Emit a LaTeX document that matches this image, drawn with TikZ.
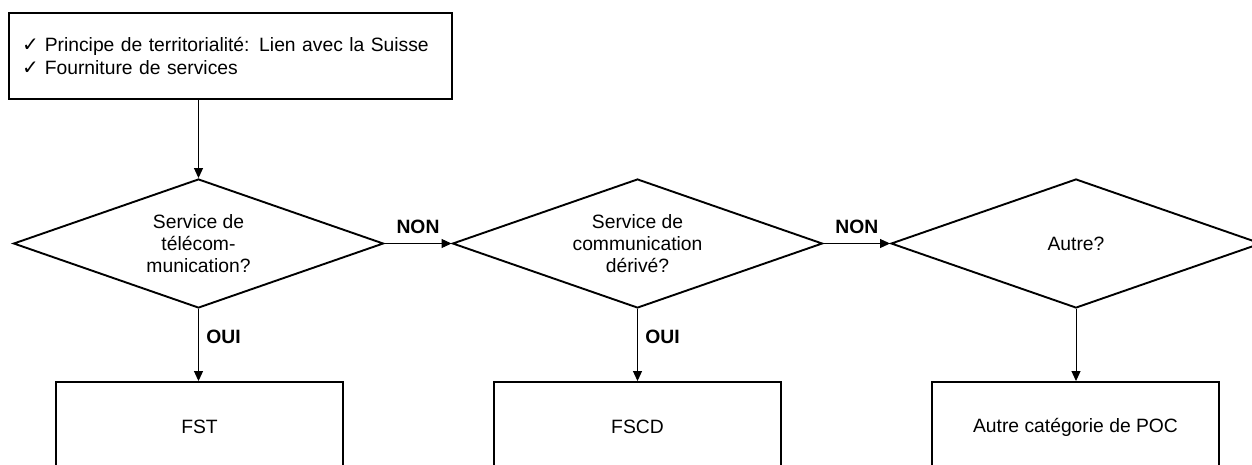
\documentclass[tikz,border=0pt]{standalone}
\usepackage{fontspec}
\setmainfont{Liberation Sans}
\newfontfamily\symfont{DejaVu Sans}
\usetikzlibrary{shapes.geometric,arrows.meta}
\tikzset{
  base/.style={font=\fontsize{19.3}{22.3}\selectfont},
  decision/.style={base, draw, line width=1.9pt, shape=diamond, aspect=2.87, inner sep=0pt,
    minimum width=370pt, minimum height=129pt, align=center},
  outbox/.style={base, draw, line width=1.9pt, minimum width=287pt, minimum height=90pt},
  headbox/.style={base, draw, line width=1.9pt, minimum width=443pt, minimum height=86pt,
    text width=417pt, align=left, inner xsep=13pt},
  arr/.style={line width=1pt, -{Triangle[length=10pt,width=9pt]}},
  lbl/.style={font=\fontsize{19.3}{22}\selectfont\bfseries},
}
\newcommand{\ck}{{\symfont\fontsize{20}{22}\selectfont ✓}\hspace{6pt}}
\begin{document}
\begin{tikzpicture}[x=1pt,y=-1pt]
\clip (0,0) rectangle (1252,464);
\node[headbox] (top) at (230.5,56) {\ck Principe de territorialité: Lien avec la Suisse\\ \ck Fourniture de services};
\node[decision] (d1) at (198.5,243.5) {Service de\\télécom-\\munication?};
\node[decision] (d2) at (637.5,243.5) {Service de\\communication\\dérivé?};
\node[decision] (d3) at (1076,243.5) {Autre?};
\node[outbox] (b1) at (199.5,427) {FST};
\node[outbox] (b2) at (637.5,427) {FSCD};
\node[outbox] (b3) at (1075.5,427) {Autre catégorie de POC};
\draw[arr] (d1.north |- top.south) -- (d1.north);
\draw[arr] (d1.east) -- node[lbl, midway, above=6pt] (n1) {NON} (d2.west);
\draw[arr] (d2.east) -- node[lbl, midway, above=6pt] (n2) {NON} (d3.west);
\draw[arr] (d1.south) -- node[lbl, pos=0.38, right=4pt] (o1) {OUI} (d1.south |- b1.north);
\draw[arr] (d2.south) -- node[lbl, pos=0.38, right=4pt] (o2) {OUI} (d2.south |- b2.north);
\draw[arr] (d3.south) -- (d3.south |- b3.north);
\end{tikzpicture}
\end{document}
